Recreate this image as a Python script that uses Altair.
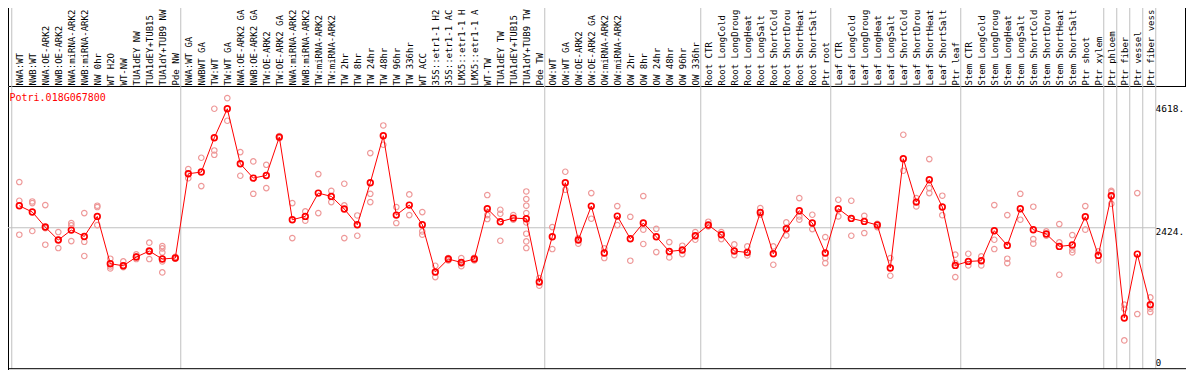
import json
import altair as alt
import pandas as pd

gene = "Potri.018G067800"

labels = [
    "NWA:WT", "NWB:WT", "NWA:OE-ARK2", "NWB:OE-ARK2", "NWA:miRNA-ARK2", "NWB:miRNA-ARK2",
    "NW 0hr", "WT H2O", "WT-NW", "TUA1dEY NW", "TUA1dEY+TUB15", "TUA1dY+TUB9 NW", "Pde NW",
    "NWA:WT GA", "NWBWT GA", "TW:WT", "TW:WT GA", "NWA:OE-ARK2 GA", "NWB:OE-ARK2 GA",
    "TW:OE-ARK2", "TW:OE-ARK2 GA", "NWA:miRNA-ARK2", "NWB:miRNA-ARK2", "TW:miRNA-ARK2",
    "TW:miRNA-ARK2", "TW 2hr", "TW 8hr", "TW 24hr", "TW 48hr", "TW 96hr", "TW 336hr",
    "WT ACC", "35S::etr1-1 H2", "35S::etr1-1 AC", "LMX5::etr1-1 H", "LMX5::etr1-1 A",
    "WT-TW", "TUA1dEY TW", "TUA1dEY+TUB15", "TUA1dY+TUB9 TW", "Pde TW",
    "OW:WT", "OW:WT GA", "OW:OE-ARK2", "OW:OE-ARK2 GA", "OW:miRNA-ARK2", "OW:miRNA-ARK2",
    "OW 2hr", "OW 8hr", "OW 24hr", "OW 48hr", "OW 96hr", "OW 336hr",
    "Root CTR", "Root LongCold", "Root LongDroug", "Root LongHeat", "Root LongSalt",
    "Root ShortCold", "Root ShortDrou", "Root ShortHeat", "Root ShortSalt", "Ptr root",
    "Leaf CTR", "Leaf LongCold", "Leaf LongDroug", "Leaf LongHeat", "Leaf LongSalt",
    "Leaf ShortCold", "Leaf ShortDrou", "Leaf ShortHeat", "Leaf ShortSalt", "Ptr leaf",
    "Stem CTR", "Stem LongCold", "Stem LongDroug", "Stem LongHeat", "Stem LongSalt",
    "Stem ShortCold", "Stem ShortDrou", "Stem ShortHeat", "Stem ShortSalt", "Ptr shoot",
    "Ptr xylem", "Ptr phloem", "Ptr fiber", "Ptr vessel", "Ptr fiber vess",
]

means = [
    2797, 2690, 2436, 2216, 2385, 2277, 2616, 1815, 1781, 1929, 2030, 1895, 1912,
    3338, 3367, 3947, 4438, 3507, 3265, 3309, 3959, 2560, 2616, 3011, 2954, 2741, 2475, 3186,
    3981, 2639, 2808, 2475, 1675, 1895, 1837, 1895, 2746, 2526, 2588, 2577, 1506,
    2272, 3186, 2216, 2791, 1996, 2622, 2238, 2504, 2272, 2023, 2047, 2289,
    2470, 2306, 2030, 2006, 2683, 1984, 2407, 2712, 2504, 1996,
    2746, 2582, 2531, 2470, 1743, 3592, 2859, 3236, 2775, 1787,
    1854, 1866, 2374, 2125, 2746, 2391, 2318, 2108, 2132, 2610, 1956,
    2966, 897, 1979, 1122,
]

replicates = [
    [3198, 2881, 2306], [2869, 2842, 2369], [2808, 2419, 2137], [2352, 2221, 2081],
    [2504, 2463, 2199], [2673, 2187, 1946], [2797, 2775, 2470], [1900, 1770, 1736],
    [1854, 1787, 1759], [1973, 1939, 1895], [2171, 2018, 1895],
    [2115, 2074, 2006, 1854, 1668], [1900, 1930],
    [3417, 3262], [3609, 3130], [4438, 3732, 3659], [4618, 4235], [3705, 3304],
    [3546, 2999], [3490, 3096], [3940, 3975], [2842, 2250], [2700, 2543],
    [3333, 2673], [3050, 2859], [3169, 2802, 2250], [2632, 2289], [3688, 2999, 2859],
    [4155, 3829], [2775, 2504], [2988, 2639], [2690, 2362, 2306], [1781, 1590],
    [1912, 1871], [1912, 1815, 1773], [1917, 1871], [2978, 2639, 2572],
    [2729, 2661, 2204], [2639, 2560], [3038, 2910, 2797, 2673, 2514, 2323, 2193, 2081],
    [1573, 1443],
    [2436, 2064], [3372, 3067], [2250, 2154], [3011, 2577], [2074, 1912], [2791, 2470],
    [2610, 1866], [2961, 2391, 2149], [2407, 2013], [2182, 1922], [2120, 1979], [2352, 2221],
    [2526, 2446], [2352, 2233], [2142, 1962], [2108, 1956], [2758, 2644], [2108, 1798],
    [2514, 2294], [2927, 2616, 2560], [2644, 2402], [2267, 1912, 1827],
    [2898, 2616], [2881, 2289], [2627, 2335], [2492, 2436], [1912, 1612], [3998, 3389],
    [2927, 2785], [3587, 3096, 3011], [2966, 2636], [1968, 1827, 1590],
    [1984, 1787], [1939, 1787], [2808, 2221, 2064], [2639, 1900, 1827], [2999, 2560],
    [2780, 2233, 2154], [2362, 2289], [2487, 2176, 1629], [2301, 2052, 2006], [2791, 2391],
    [2023, 1871],
    [3050, 3028, 2830], [1122, 1054, 518], [3011, 964], [1245, 1054, 998],
]

group_starts = [0, 13, 41, 53, 63, 73, 84, 85, 86, 87, 88]
axis_values = [0, 2424, 4618]

MONO = "DejaVu Sans Mono"
RED = "#FF0000"
PINK = "#EE9999"
GRAY = "#C0C0C0"

W, H = 1178, 285
x_dom = [-0.869, 89.746]
x_scale = alt.Scale(domain=x_dom, nice=False, zero=False)
y_scale = alt.Scale(domain=[0, 4823], nice=False, zero=False)

idx = list(range(len(labels)))
df_mean = pd.DataFrame({"i": idx, "label": labels, "v": means})
df_rep = pd.DataFrame(
    [(i, labels[i], v) for i in idx for v in replicates[i]], columns=["i", "label", "v"]
)
bounds = [s - 0.58 for s in group_starts]
df_bounds = pd.DataFrame({"b": bounds})
df_grid = pd.DataFrame({"v": [axis_values[1]], "xs": [x_dom[0]], "xe": [bounds[-1]]})
df_title = pd.DataFrame({"t": [gene]})

label_expr = json.dumps(labels) + "[datum.value]"

x_axis = alt.Axis(
    orient="top", values=idx, labelExpr=label_expr, labelAngle=270,
    labelAlign="left", labelBaseline="middle", labelPadding=1,
    ticks=False, tickSize=0, domain=False, grid=False, labelOverlap=False,
    labelBound=False, labelFlush=False, labelFont=MONO, labelFontSize=9,
    labelColor="black", title=None,
)
y_axis = alt.Axis(
    orient="right", values=axis_values, offset=-31, labelPadding=0,
    ticks=False, tickSize=0, domain=False, grid=False, labelAlign="left",
    labelBaseline="middle", labelFont=MONO, labelFontSize=9.5, labelColor="black",
    labelExpr="datum.value == 0 ? '0' : datum.value + '.'",
    labelOffset={"expr": "datum.value == 0 ? -9 : (datum.value > 3000 ? 10 : 4)"},
    labelFlush=False, labelOverlap=False, labelBound=False, title=None,
)


def X(field):
    return alt.X(field, scale=x_scale, axis=x_axis)


def Y(field):
    return alt.Y(field, scale=y_scale, axis=y_axis)


sep = alt.Chart(df_bounds).mark_rule(color=GRAY, strokeWidth=1).encode(
    x=X("b:Q"), y=alt.value(-90), y2=alt.value(282.7),
)
grid = alt.Chart(df_grid).mark_rule(color=GRAY, strokeWidth=1).encode(
    x=X("xs:Q"), x2=alt.X2("xe:Q"), y=Y("v:Q"),
)
reps = alt.Chart(df_rep).mark_point(
    shape="circle", filled=False, color=PINK, size=30, strokeWidth=1.2, opacity=1
).encode(x=X("i:Q"), y=Y("v:Q"))
line = alt.Chart(df_mean).mark_line(color=RED, strokeWidth=1).encode(
    x=X("i:Q"), y=Y("v:Q")
)
pts = alt.Chart(df_mean).mark_point(
    shape="circle", filled=False, color=RED, size=32, strokeWidth=1.7, opacity=1
).encode(x=X("i:Q"), y=Y("v:Q"))
title = alt.Chart(df_title).mark_text(
    color=RED, font=MONO, fontSize=10, align="left", baseline="alphabetic"
).encode(text="t:N", x=alt.value(1.5), y=alt.value(14.5))

frame_bottom = alt.Chart(df_title).mark_rule(color="black", strokeWidth=1).encode(
    x=alt.value(0), x2=alt.value(W), y=alt.value(282.7)
)
frame_left = alt.Chart(df_title).mark_rule(color="black", strokeWidth=1).encode(
    x=alt.value(0.5), y=alt.value(-90), y2=alt.value(0)
)
frame_right = alt.Chart(df_title).mark_rule(color="black", strokeWidth=1).encode(
    x=alt.value(W - 0.5), y=alt.value(-90), y2=alt.value(0)
)

chart = (
    alt.layer(sep, grid, reps, line, pts, title, frame_bottom, frame_left, frame_right)
    .properties(
        width=W, height=H,
        autosize=alt.AutoSizeParams(type="none"),
        padding={"left": 0, "top": 78, "right": 0, "bottom": 0},
        background="white",
    )
    .configure_view(stroke="black", strokeWidth=1)
)

chart.save("out.html", embed_options={"renderer": "svg", "actions": False})
